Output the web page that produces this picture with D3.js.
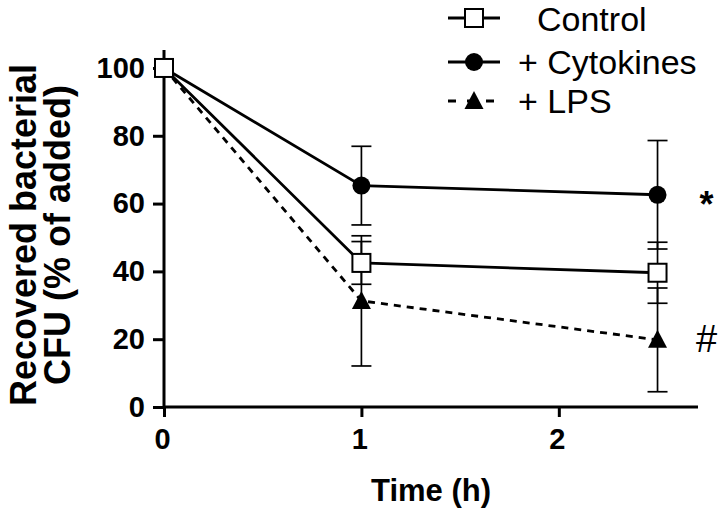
<!DOCTYPE html>
<html><head><meta charset="utf-8">
<script src="https://cdn.jsdelivr.net/npm/d3@7"></script>
<style>body{margin:0;background:#fff}svg{display:block}</style>
</head><body>
<script>
const times = [0, 1, 2.5];
const seriesNames = ["Control", "+ Cytokines", "+ LPS"];
const controlValues = [100, 42.5, 39.6];
const controlErrors = [0, 6.3, 9.0];
const cytokinesValues = [100, 65.3, 62.6];
const cytokinesErrors = [0, 11.6, 16.0];
const lpsValues = [100, 31.3, 19.8];
const lpsErrors = [0, 19.2, 15.3];
const yTicks = [0, 20, 40, 60, 80, 100];
const xTicks = [0, 1, 2];
const annotations = [{label: "*", t: 2.5, v: 62.6}, {label: "#", t: 2.5, v: 19.8}];

const W = 720, H = 513;
const svg = d3.select("body").append("svg").attr("width", W).attr("height", H);
const x = d3.scaleLinear().domain([0, 2.705]).range([164, 698]);
const y = d3.scaleLinear().domain([0, 105.3]).range([407, 50]);
const FONT = "'Liberation Sans', Arial, sans-serif";

const series = [
  {name: seriesNames[0], vals: controlValues, errs: controlErrors, marker: "square", dash: null},
  {name: seriesNames[1], vals: cytokinesValues, errs: cytokinesErrors, marker: "circle", dash: null},
  {name: seriesNames[2], vals: lpsValues, errs: lpsErrors, marker: "triangle", dash: "7,6"}
];

// axes
const yAxis = d3.axisLeft(y).tickValues(yTicks).tickSize(11).tickPadding(8).tickFormat(d3.format("d"));
const xAxis = d3.axisBottom(x).tickValues(xTicks).tickSize(10).tickPadding(11).tickFormat(d3.format("d"));
const gy = svg.append("g").attr("transform", "translate(164,0)").call(yAxis);
const gx = svg.append("g").attr("transform", "translate(0,407)").call(xAxis);
[gy, gx].forEach(g => {
  g.select(".domain").attr("stroke", "#000").attr("stroke-width", 3);
  g.selectAll(".tick line").attr("stroke", "#000").attr("stroke-width", 3);
  g.selectAll(".tick text").attr("fill", "#000").style("font-family", FONT)
    .style("font-size", "29px").style("font-weight", "bold");
});
gy.select(".domain").attr("d", `M0,${y(105.3)}V${y(0)}`);
gx.select(".domain").attr("d", `M${x(0)},0H${x(2.705)}`);
gx.selectAll(".tick text").attr("dy", "0.72em").attr("dx", "-2");

// axis labels
svg.append("text").attr("x", 431).attr("y", 501).attr("text-anchor", "middle")
  .style("font-family", FONT).style("font-size", "31px").style("font-weight", "bold").text("Time (h)");
const yl = svg.append("g").attr("transform", "translate(0,235) rotate(-90)");
yl.append("text").attr("x", 0).attr("y", 36).attr("text-anchor", "middle")
  .style("font-family", FONT).style("font-size", "36px").style("font-weight", "bold").text("Recovered bacterial");
yl.append("text").attr("x", 0).attr("y", 70).attr("text-anchor", "middle")
  .style("font-family", FONT).style("font-size", "36px").style("font-weight", "bold").text("CFU (% of added)");

const line = d3.line().x(d => x(d[0])).y(d => y(d[1]));

function drawMarker(g, type, cx, cy) {
  if (type === "square") {
    g.append("rect").attr("x", cx - 9).attr("y", cy - 9).attr("width", 18).attr("height", 18)
      .attr("fill", "#fff").attr("stroke", "#000").attr("stroke-width", 2);
  } else if (type === "circle") {
    g.append("circle").attr("cx", cx).attr("cy", cy).attr("r", 9).attr("fill", "#000");
  } else {
    g.append("path").attr("d", `M${cx},${cy - 10}L${cx + 9.5},${cy + 8}L${cx - 9.5},${cy + 8}Z`).attr("fill", "#000");
  }
}

// error bars
series.forEach(s => {
  const g = svg.append("g");
  times.forEach((t, i) => {
    if (!s.errs[i]) return;
    const cx = x(t), hi = y(s.vals[i] + s.errs[i]), lo = y(s.vals[i] - s.errs[i]);
    g.append("line").attr("x1", cx).attr("x2", cx).attr("y1", hi).attr("y2", lo).attr("stroke", "#000").attr("stroke-width", 1.7);
    [hi, lo].forEach(yy => g.append("line").attr("x1", cx - 10).attr("x2", cx + 10).attr("y1", yy).attr("y2", yy)
      .attr("stroke", "#000").attr("stroke-width", 1.7));
  });
});

// lines
series.forEach(s => {
  svg.append("path").datum(times.map((t, i) => [t, s.vals[i]])).attr("d", line)
    .attr("fill", "none").attr("stroke", "#000").attr("stroke-width", 2.8)
    .attr("stroke-dasharray", s.dash);
});
// markers
[1, 2, 0].forEach(k => {
  const s = series[k];
  const g = svg.append("g");
  times.forEach((t, i) => drawMarker(g, s.marker, x(t), y(s.vals[i])));
});

// annotations
annotations.forEach(a => {
  const star = a.label === "*";
  svg.append("text").attr("x", x(a.t) + 49).attr("y", y(a.v) + (star ? 22 : 12)).attr("text-anchor", "middle")
    .style("font-family", FONT).style("font-size", star ? "36px" : "38px")
    .style("font-weight", star ? "bold" : "normal").text(a.label);
});

// legend
const legY = [18, 62, 101];
const legBase = [31, 74, 113];
const legTextX = [537, 518, 518];
series.forEach((s, i) => {
  const g = svg.append("g");
  g.append("line").attr("x1", 448).attr("x2", 500).attr("y1", legY[i]).attr("y2", legY[i])
    .attr("stroke", "#000").attr("stroke-width", 2.8).attr("stroke-dasharray", s.dash ? "8,11" : null);
  drawMarker(g, s.marker, 474, legY[i]);
  g.append("text").attr("x", legTextX[i]).attr("y", legBase[i])
    .style("font-family", FONT).style("font-size", "34px").text(s.name);
});
</script>
</body></html>
